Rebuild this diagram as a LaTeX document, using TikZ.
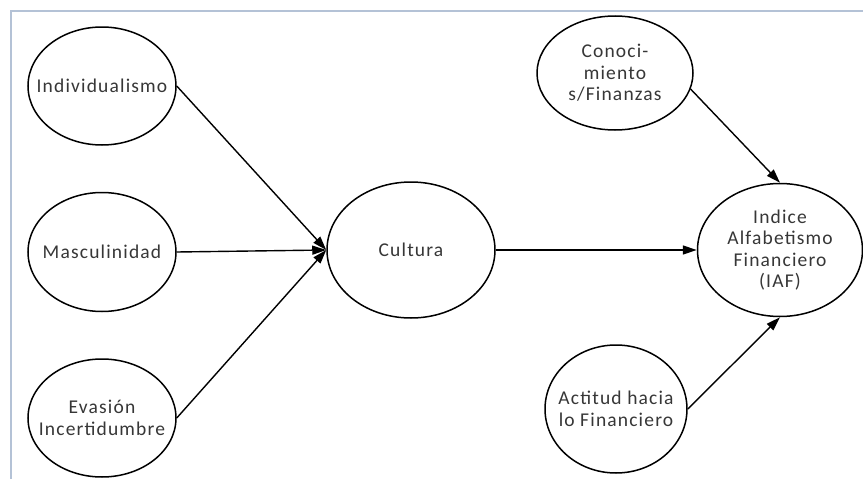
\documentclass[tikz,border=0pt]{standalone}
\usepackage{fontspec}
\setmainfont{Carlito}[LetterSpace=6]
\usetikzlibrary{shapes.geometric,arrows.meta}
\definecolor{txt}{RGB}{55,55,55}
\definecolor{frame}{RGB}{180,194,214}
\tikzset{
  bubble/.style={ellipse,draw=black,line width=1.5pt,fill=white,inner sep=0pt},
  lbl/.style={align=center,text=txt,inner sep=0pt,font=\fontsize{19.5}{21.5}\selectfont},
  link/.style={line width=1.4pt,-{Triangle[length=14pt,width=9pt]}}
}
\begin{document}
\begin{tikzpicture}[x=1pt,y=-1pt]
\useasboundingbox (0,0) rectangle (863,479);
\draw[frame,line width=1.5pt] (11,479) -- (11,11) -- (863,11);
\node[bubble,minimum width=148pt,minimum height=118pt] (ind) at (102,86) {};
\node[bubble,minimum width=148pt,minimum height=119pt] (mas) at (102,252) {};
\node[bubble,minimum width=148pt,minimum height=118pt] (eva) at (102,418) {};
\node[bubble,minimum width=168pt,minimum height=136pt] (cul) at (411,250) {};
\node[bubble,minimum width=156pt,minimum height=114pt] (con) at (615,73) {};
\node[bubble,minimum width=165pt,minimum height=133pt] (iaf) at (780,250) {};
\node[bubble,minimum width=142pt,minimum height=128pt] (act) at (616,409) {};
\node[lbl] (indt) at (ind) {Individualismo};
\node[lbl] (mast) at (mas) {Masculinidad};
\node[lbl] (evat) at (eva) {Evasión\\Incertidumbre};
\node[lbl] (cult) at (cul) {Cultura};
\node[lbl] (cont) at (con) {Conoci-\\miento\\s/Finanzas};
\node[lbl] (iaft) at (iaf) {Indice\\Alfabetismo\\Financiero\\(IAF)};
\node[lbl] (actt) at (act) {Actitud hacia\\lo Financiero};
\draw[link] (ind.east) -- (cul.west);
\draw[link] (mas.east) -- (cul.west);
\draw[link] (eva.east) -- (cul.west);
\draw[link] (cul.east) -- (iaf.west);
\draw[link] (con.-12) -- (iaf.north);
\draw[link] (act.east) -- (iaf.south);
\end{tikzpicture}
\end{document}
